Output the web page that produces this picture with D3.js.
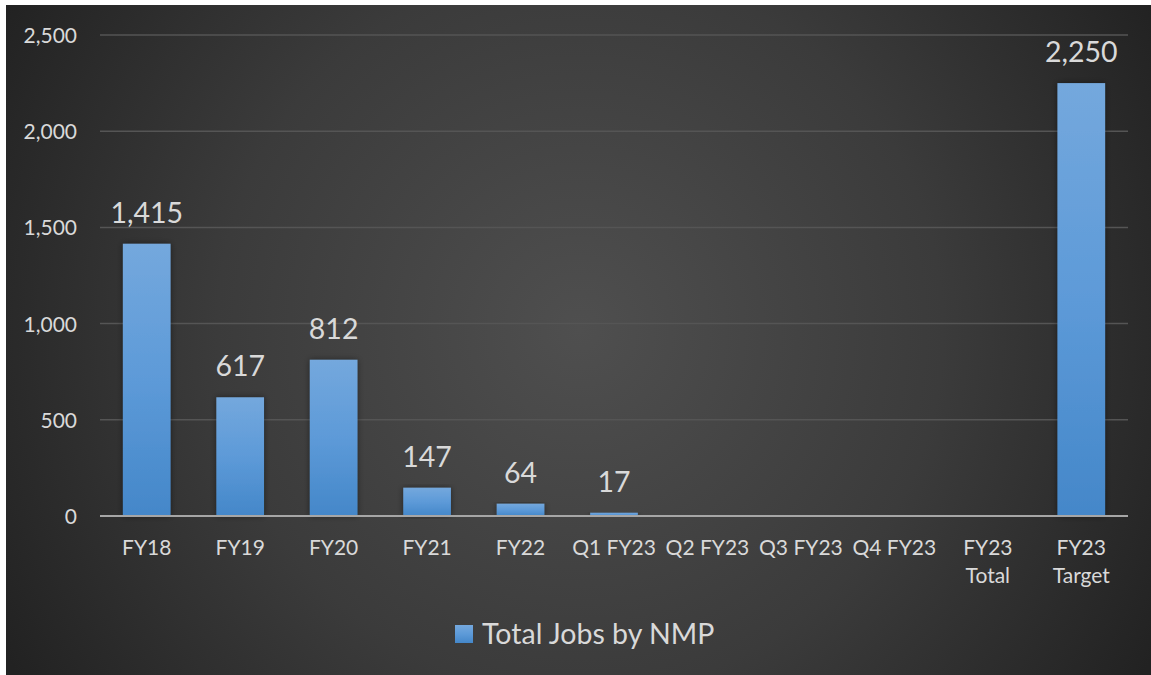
<!DOCTYPE html>
<html>
<head>
<meta charset="utf-8">
<script src="https://cdn.jsdelivr.net/npm/d3@7/dist/d3.min.js"></script>
<style>
  html, body { margin: 0; padding: 0; background: #ffffff; }
  svg { display: block; }
</style>
</head>
<body>
<svg id="chart" width="1151" height="675"></svg>
<script>
// Jobs created by NMP, by fiscal period
const categories = ["FY18", "FY19", "FY20", "FY21", "FY22", "Q1 FY23", "Q2 FY23", "Q3 FY23", "Q4 FY23", "FY23 Total", "FY23 Target"];
const jobs = [1415, 617, 812, 147, 64, 17, null, null, null, null, 2250];
const yTicks = [0, 500, 1000, 1500, 2000, 2500];
const seriesName = "Total Jobs by NMP";

const svg = d3.select("#chart");
const W = 1151, H = 675;
const margin = { left: 100, right: 23, top: 35, bottom: 159 };
const font = "Lato, 'Open Sans', sans-serif";

const defs = svg.append("defs");
const bg = defs.append("radialGradient").attr("id", "bg")
  .attr("gradientUnits", "userSpaceOnUse")
  .attr("cx", 580).attr("cy", 330).attr("r", 660);
bg.append("stop").attr("offset", "0").attr("stop-color", "#4f4f4f");
bg.append("stop").attr("offset", "0.55").attr("stop-color", "#3b3b3b");
bg.append("stop").attr("offset", "1").attr("stop-color", "#222222");

const barGrad = defs.append("linearGradient").attr("id", "barGrad")
  .attr("x1", 0).attr("y1", 0).attr("x2", 0).attr("y2", 1);
barGrad.append("stop").attr("offset", "0").attr("stop-color", "#74a8dd");
barGrad.append("stop").attr("offset", "0.5").attr("stop-color", "#5d9ad8");
barGrad.append("stop").attr("offset", "1").attr("stop-color", "#4487c9");

const shadow = defs.append("filter").attr("id", "shadow")
  .attr("x", "-30%").attr("y", "-10%").attr("width", "160%").attr("height", "120%");
shadow.append("feDropShadow").attr("dx", 0).attr("dy", 0)
  .attr("stdDeviation", 3).attr("flood-color", "#000").attr("flood-opacity", 0.45);

// chart area background
svg.append("rect").attr("x", 6).attr("y", 5).attr("width", W - 6).attr("height", H - 5)
  .attr("fill", "url(#bg)");

const x = d3.scaleBand().domain(categories)
  .range([margin.left, W - margin.right]).paddingInner(0.49).paddingOuter(0.245);
const y = d3.scaleLinear().domain([0, 2500]).range([H - margin.bottom, margin.top]);

// horizontal gridlines
svg.append("g").selectAll("line").data(yTicks.filter(d => d > 0)).join("line")
  .attr("x1", margin.left).attr("x2", W - margin.right)
  .attr("y1", d => y(d)).attr("y2", d => y(d))
  .attr("stroke", "#555555").attr("stroke-width", 1.5);

// y axis labels
const yAxis = d3.axisLeft(y).tickValues(yTicks).tickFormat(d3.format(",")).tickSize(0).tickPadding(23);
const gy = svg.append("g").attr("transform", `translate(${margin.left},0)`).call(yAxis);
gy.select(".domain").remove();
gy.selectAll("text").attr("fill", "#d9d9d9").attr("font-family", font).attr("font-size", 21)
  .attr("dy", "0.36em");

// bars
const data = categories.map((c, i) => ({ c, v: jobs[i] }));
svg.append("g").selectAll("rect").data(data.filter(d => d.v != null)).join("rect")
  .attr("x", d => x(d.c)).attr("width", x.bandwidth())
  .attr("y", d => y(d.v)).attr("height", d => y(0) - y(d.v))
  .attr("fill", "url(#barGrad)").attr("filter", "url(#shadow)");

// baseline
svg.append("line").attr("x1", margin.left).attr("x2", W - margin.right)
  .attr("y1", y(0)).attr("y2", y(0)).attr("stroke", "#a6a6a6").attr("stroke-width", 2);

// value labels
svg.append("g").selectAll("text").data(data.filter(d => d.v != null)).join("text")
  .attr("x", d => x(d.c) + x.bandwidth() / 2).attr("y", d => y(d.v) - 21)
  .attr("text-anchor", "middle").attr("fill", "#d9d9d9")
  .attr("font-family", font).attr("font-size", 28.5)
  .text(d => d3.format(",")(d.v));

// x axis labels (wrapped onto two lines where needed)
const xAxis = d3.axisBottom(x).tickSize(0).tickFormat("");
const gx = svg.append("g").attr("transform", `translate(0,${y(0)})`).call(xAxis);
gx.select(".domain").remove();
gx.selectAll(".tick").each(function (d) {
  const words = /^FY23 (Total|Target)$/.test(d) ? ["FY23", d.split(" ")[1]] : [d];
  const t = d3.select(this).append("text")
    .attr("fill", "#d9d9d9").attr("font-family", font).attr("font-size", 21)
    .attr("text-anchor", "middle");
  words.forEach((w, i) => t.append("tspan").attr("x", 0).attr("y", 39 + i * 28).text(w));
});

// legend
const legend = svg.append("g").attr("transform", "translate(455,625)");
legend.append("rect").attr("width", 18).attr("height", 18).attr("fill", "url(#barGrad)");
legend.append("text").attr("x", 27).attr("y", 18.5)
  .attr("fill", "#d9d9d9").attr("font-family", font).attr("font-size", 28.5)
  .text(seriesName);
</script>
</body>
</html>
